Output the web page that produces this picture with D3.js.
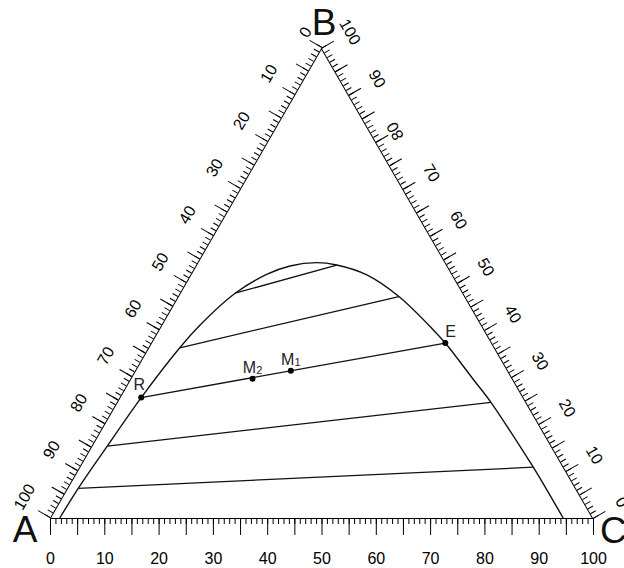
<!DOCTYPE html>
<html>
<head>
<meta charset="utf-8">
<script src="https://cdn.jsdelivr.net/npm/d3@7"></script>
<style>
  body { margin: 0; background: #fff; }
  svg { display: block; font-family: "Liberation Sans", Arial, sans-serif; }
  .axis text { font-size: 16px; font-family: "Liberation Sans", Arial, sans-serif; fill: #000; }
  .axis path, .axis line { stroke: #000; stroke-width: 1; }
  .vertex { font-size: 37px; fill: #111; }
  .pt-label { font-size: 16px; fill: #222; }
</style>
</head>
<body>
<svg id="chart" width="624" height="568"></svg>
<script>
// compositions are [C %, B %]; A % is what is left
var binodal = [[1.8, 0], [2.05, 6.3], [2.9, 15.3], [4.0, 25.6], [5.8, 36.2], [7.1, 41.0],
  [10.2, 47.8], [14.0, 51.8], [17.4, 53.6], [22.0, 54.3], [25.9, 53.8], [32.5, 51.7],
  [40.7, 47.1], [50.6, 40.0], [54.2, 37.2], [63.3, 29.4], [68.9, 24.6], [81.3, 13.0],
  [83.6, 10.8], [88.5, 6.0], [94.5, 0]];

var tieLines = [
  [[10.2, 47.8], [25.9, 53.8]],
  [[5.8, 36.2], [40.7, 47.1]],
  [[4.0, 25.6], [54.2, 37.2]],
  [[2.9, 15.3], [68.9, 24.6]],
  [[2.05, 6.3], [83.6, 10.8]]
];

var pointNames = ['R', 'M2', 'M1', 'E'];
var pointValues = [[4.0, 25.6], [22.5, 29.6], [28.7, 31.3], [54.2, 37.2]];

var vertexNames = ['A', 'B', 'C'];
var minorTicks = d3.range(0, 101, 1);
var majorTicks = d3.range(0, 101, 5);

var svg = d3.select('#chart');

var side = 543,
    ax = 50,
    ay = 518,
    h = side * Math.sqrt(3) / 2;

var x = d3.scaleLinear().domain([0, 100]).range([ax, ax + side]);
var y = d3.scaleLinear().domain([0, 100]).range([ay, ay - h]);
// along an edge: 100 at the first corner, 0 at the second
var edge = d3.scaleLinear().domain([100, 0]).range([0, side]);

function px(d) { return x(d[0] + d[1] / 2); }
function py(d) { return y(d[1]); }

var corners = [[0, 0], [0, 100], [100, 0]];

function addAxis(g, make, minorSize, majorSize, pad) {
  g.append('g')
      .attr('class', 'axis minor')
      .call(make().tickValues(minorTicks).tickSize(minorSize).tickSizeOuter(0).tickFormat(''));
  var major = g.append('g')
      .attr('class', 'axis major')
      .call(make().tickValues(majorTicks).tickSize(majorSize).tickSizeOuter(0)
        .tickPadding(pad).tickFormat(d => d % 10 === 0 ? d : ''));
  major.select('.domain').remove();
  return major;
}

// bottom: A -> C
var bottom = svg.append('g').attr('transform', `translate(0,${ay})`);
addAxis(bottom, () => d3.axisBottom(x), 6, 17, 17.6);

// left: A -> B
var left = svg.append('g')
    .attr('transform', `translate(${px(corners[0])},${py(corners[0])}) rotate(-60)`);
var leftMajor = addAxis(left, () => d3.axisTop(edge), 6, 14, 13.3);
leftMajor.selectAll('.tick text')
    .attr('x', 5)
    .attr('transform', d => d === 0 ? 'rotate(180,5,-27.3)' : null);

// right: B -> C
var right = svg.append('g')
    .attr('transform', `translate(${px(corners[1])},${py(corners[1])}) rotate(60)`);
var rightMajor = addAxis(right, () => d3.axisTop(edge), 6, 14, 13.3);
rightMajor.selectAll('.tick text')
    .attr('transform', d => d === 80 ? 'rotate(180,0,-27.3)' : null);

// corner letters
var vertexOffset = [[-25, 24, 'middle'], [2.5, -12.7, 'middle'], [7, 24.5, 'start']];
svg.append('g')
    .selectAll('text.vertex')
    .data(vertexNames)
    .enter()
    .append('text')
    .attr('class', 'vertex')
    .attr('x', (d, i) => px(corners[i]) + vertexOffset[i][0])
    .attr('y', (d, i) => py(corners[i]) + vertexOffset[i][1])
    .attr('text-anchor', (d, i) => vertexOffset[i][2])
    .text(d => d);

// binodal curve
var line = d3.line()
    .x(px)
    .y(py)
    .curve(d3.curveCatmullRom.alpha(0.5));

svg.append('path')
    .attr('class', 'binodal')
    .attr('d', line(binodal))
    .attr('fill', 'none')
    .attr('stroke', '#111')
    .attr('stroke-width', 1.4);

// tie lines
svg.append('g')
    .selectAll('line.tie')
    .data(tieLines)
    .enter()
    .append('line')
    .attr('class', 'tie')
    .attr('x1', d => px(d[0]))
    .attr('y1', d => py(d[0]))
    .attr('x2', d => px(d[1]))
    .attr('y2', d => py(d[1]))
    .attr('stroke', '#111')
    .attr('stroke-width', 1.3);

// marked points
svg.append('g')
    .selectAll('circle.pt')
    .data(pointValues)
    .enter()
    .append('circle')
    .attr('class', 'pt')
    .attr('cx', px)
    .attr('cy', py)
    .attr('r', 3)
    .attr('fill', '#000');

var labelPos = {R: [-2, -7.7, 'middle'], M: [0, -6, 'middle'], E: [0, -5.6, 'start']};
var labels = svg.append('g')
    .selectAll('text.pt-label')
    .data(pointNames)
    .enter()
    .append('text')
    .attr('class', 'pt-label')
    .attr('x', (d, i) => px(pointValues[i]) + labelPos[d[0]][0])
    .attr('y', (d, i) => py(pointValues[i]) + labelPos[d[0]][1])
    .attr('text-anchor', d => labelPos[d[0]][2]);

labels.append('tspan').text(d => d[0]);
labels.filter(d => d.length > 1)
    .append('tspan')
    .attr('font-size', 11)
    .attr('dy', 1)
    .text(d => d.slice(1));
</script>
</body>
</html>
